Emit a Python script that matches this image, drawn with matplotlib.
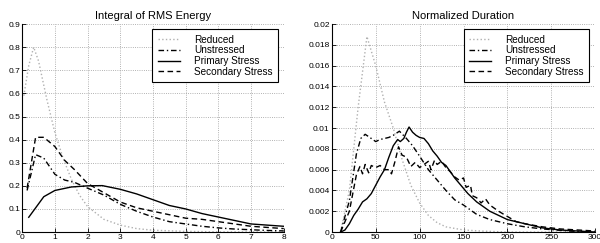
import matplotlib
matplotlib.use('Agg')
import matplotlib.pyplot as plt
import numpy as np

plt.rcParams['font.family'] = ['Liberation Sans', 'DejaVu Sans']

labels = ['Reduced', 'Unstressed', 'Primary Stress', 'Secondary Stress']

# Integral of RMS Energy
e_red_x = [0.05, 0.2, 0.35, 0.5, 0.76, 1.0, 1.25, 1.5, 1.75, 2.0, 2.5, 3.0, 3.5, 4.0, 5.0, 6.0, 7.0, 8.0]
e_red_y = [0.59, 0.72, 0.80, 0.74, 0.57, 0.43, 0.32, 0.23, 0.16, 0.11, 0.055, 0.03, 0.015, 0.008, 0.003, 0.001, 0.0005, 0.0]
e_uns_x = [0.15, 0.41, 0.66, 1.0, 1.3, 1.6, 2.0, 2.5, 3.0, 3.5, 4.0, 4.5, 5.0, 5.5, 6.0, 6.5, 7.0, 7.5, 8.0]
e_uns_y = [0.18, 0.335, 0.32, 0.25, 0.225, 0.215, 0.19, 0.16, 0.12, 0.09, 0.065, 0.045, 0.035, 0.025, 0.018, 0.013, 0.01, 0.007, 0.005]
e_pri_x = [0.2, 0.66, 1.0, 1.5, 2.0, 2.45, 3.0, 3.5, 4.0, 4.5, 5.0, 5.5, 6.0, 6.5, 7.0, 7.5, 8.0]
e_pri_y = [0.064, 0.153, 0.18, 0.195, 0.2, 0.201, 0.185, 0.165, 0.14, 0.115, 0.1, 0.08, 0.065, 0.05, 0.035, 0.03, 0.025]
e_sec_x = [0.15, 0.41, 0.66, 1.0, 1.3, 1.6, 2.0, 2.5, 3.0, 3.5, 4.0, 4.5, 5.0, 5.5, 6.0, 6.5, 7.0, 7.5, 8.0]
e_sec_y = [0.19, 0.41, 0.41, 0.37, 0.31, 0.27, 0.21, 0.17, 0.13, 0.105, 0.09, 0.075, 0.06, 0.055, 0.045, 0.035, 0.025, 0.02, 0.015]

# Normalized Duration
d_red_x = [10, 20, 30, 40, 50, 60, 70, 80, 90, 100, 110, 120, 130, 150, 170, 200, 300]
d_red_y = [0.0, 0.004, 0.012, 0.0188, 0.016, 0.0125, 0.01, 0.007, 0.0045, 0.0028, 0.0016, 0.0009, 0.0005, 0.0002, 0.0001, 0.0, 0.0]
d_uns_x = [10, 20, 28, 33, 38, 45, 50, 55, 60, 65, 70, 77, 85, 92, 100, 110, 120, 130, 140, 150, 165, 180, 200, 220, 240, 270, 300]
d_uns_y = [0.0, 0.003, 0.0075, 0.009, 0.0094, 0.009, 0.0087, 0.0089, 0.009, 0.0091, 0.0093, 0.0097, 0.009, 0.0083, 0.0073, 0.006, 0.005, 0.004, 0.0031, 0.0026, 0.0017, 0.0012, 0.0008, 0.0005, 0.0003, 0.0001, 0.0]
d_pri_x = [10, 15, 20, 25, 30, 35, 40, 45, 50, 55, 60, 65, 70, 75, 78, 82, 85, 88, 92, 96, 100, 105, 110, 115, 120, 125, 130, 135, 140, 145, 150, 155, 160, 165, 170, 175, 180, 185, 190, 200, 210, 220, 230, 240, 260, 280, 300]
d_pri_y = [0.0, 0.0002, 0.0008, 0.0016, 0.0022, 0.0029, 0.0032, 0.0037, 0.0045, 0.0053, 0.006, 0.0072, 0.0083, 0.0089, 0.0087, 0.009, 0.0096, 0.0101, 0.0096, 0.0093, 0.0091, 0.009, 0.0085, 0.0078, 0.0073, 0.0067, 0.0064, 0.0058, 0.0052, 0.0047, 0.0042, 0.0037, 0.0033, 0.0029, 0.0026, 0.0023, 0.002, 0.0018, 0.0016, 0.0012, 0.001, 0.0008, 0.0006, 0.0004, 0.0002, 0.0001, 0.0]
d_sec_x = [10, 20, 28, 32, 35, 38, 42, 45, 50, 55, 60, 65, 68, 72, 76, 80, 85, 90, 95, 100, 105, 110, 113, 117, 120, 125, 130, 135, 140, 145, 150, 153, 158, 160, 165, 170, 175, 180, 190, 200, 210, 220, 240, 260, 280, 300]
d_sec_y = [0.0, 0.002, 0.0055, 0.0063, 0.0056, 0.0065, 0.0057, 0.0064, 0.0062, 0.0064, 0.006, 0.006, 0.0056, 0.0068, 0.0082, 0.0074, 0.0072, 0.0063, 0.0067, 0.0062, 0.0065, 0.0068, 0.006, 0.0069, 0.0065, 0.0068, 0.0062, 0.0058, 0.0053, 0.005, 0.0052, 0.0043, 0.0045, 0.0035, 0.0033, 0.0028, 0.0032, 0.0026, 0.002, 0.0015, 0.001, 0.0008, 0.0005, 0.0003, 0.0002, 0.0001]

fig = plt.figure(figsize=(6, 2.43), dpi=100)
ax1 = fig.add_axes([0.037, 0.045, 0.436, 0.856])
ax2 = fig.add_axes([0.553, 0.045, 0.439, 0.856])


def style(ax, series, xlim, ylim, xticks, yticks, title):
    red, uns, pri, sec = series
    ax.plot(red[0], red[1], color='#b0b0b0', ls=':', lw=1.0, label=labels[0])
    ax.plot(uns[0], uns[1], color='black', ls='-.', lw=1.0, dashes=(4, 2, 1, 2), label=labels[1])
    ax.plot(pri[0], pri[1], color='black', ls='-', lw=1.0, label=labels[2])
    ax.plot(sec[0], sec[1], color='black', ls='--', lw=1.0, dashes=(4, 2.5), label=labels[3])
    ax.set_xlim(*xlim)
    ax.set_ylim(*ylim)
    ax.set_xticks(xticks)
    ax.set_yticks(yticks)
    ax.grid(True, ls=':', color='#999999', lw=0.6)
    ax.spines['top'].set_visible(False)
    ax.spines['right'].set_visible(False)
    ax.spines['left'].set_linewidth(0.8)
    ax.spines['bottom'].set_linewidth(0.8)
    ax.tick_params(direction='in', length=3, width=0.6, labelsize=6, pad=1.5)
    ax.set_title(title, fontsize=8, pad=4)
    leg = ax.legend(loc='upper right', bbox_to_anchor=(0.977, 0.976), fontsize=7.2,
                    fancybox=False, framealpha=1, edgecolor='black',
                    handlelength=2.2, handletextpad=1.4, labelspacing=0.08,
                    borderpad=0.55, borderaxespad=0)
    leg.get_frame().set_linewidth(0.8)


style(ax1, [(e_red_x, e_red_y), (e_uns_x, e_uns_y), (e_pri_x, e_pri_y), (e_sec_x, e_sec_y)],
      (0, 8), (0, 0.9), range(0, 9), np.arange(0, 0.91, 0.1), 'Integral of RMS Energy')
ax1.set_yticklabels(['0'] + ['%.1f' % v for v in np.arange(0.1, 0.91, 0.1)])

style(ax2, [(d_red_x, d_red_y), (d_uns_x, d_uns_y), (d_pri_x, d_pri_y), (d_sec_x, d_sec_y)],
      (0, 300), (0, 0.02), range(0, 301, 50), np.arange(0, 0.0201, 0.002), 'Normalized Duration')
ax2.set_yticklabels(['0', '0.002', '0.004', '0.006', '0.008', '0.01', '0.012', '0.014', '0.016', '0.018', '0.02'])

fig.savefig('out.png', dpi=100)
